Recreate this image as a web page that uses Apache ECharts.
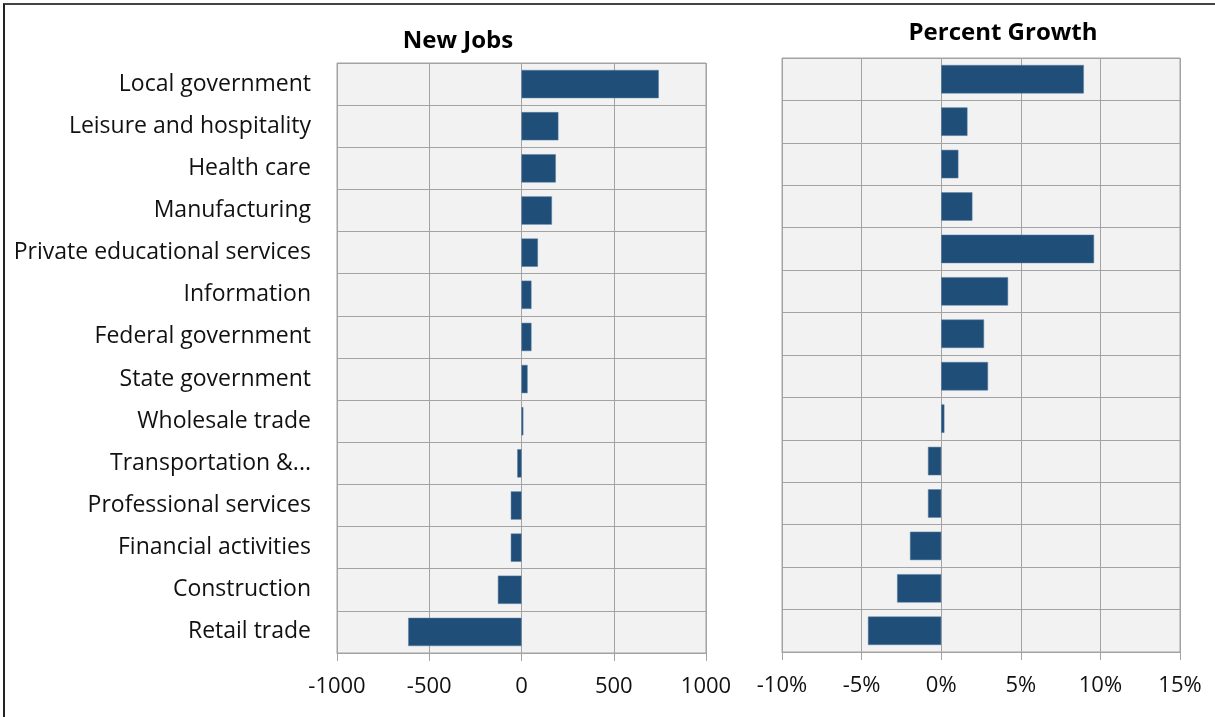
<!DOCTYPE html>
<html>
<head>
<meta charset="utf-8">
<script src="https://cdn.jsdelivr.net/npm/echarts@6/dist/echarts.min.js"></script>
<style>
  html, body { margin: 0; padding: 0; background: #fff; }
  #chart { position: absolute; left: 0; top: 0; width: 1215px; height: 717px; }
  #frame { position: absolute; left: 3px; top: 3px; width: 1220px; height: 720px;
           border-left: 2px solid #222; border-top: 2px solid #444; pointer-events: none; }
</style>
</head>
<body>
<div id="chart"></div>
<div id="frame"></div>
<script>
const categories = [
  "Local government",
  "Leisure and hospitality",
  "Health care",
  "Manufacturing",
  "Private educational services",
  "Information",
  "Federal government",
  "State government",
  "Wholesale trade",
  "Transportation &...",
  "Professional services",
  "Financial activities",
  "Construction",
  "Retail trade"
];
const newJobs = [744, 200, 186, 165, 89, 54, 54, 33, 10, -23, -58, -58, -128, -614];
const percentGrowth = [8.96, 1.65, 1.08, 1.96, 9.6, 4.2, 2.69, 2.94, 0.2, -0.83, -0.83, -1.96, -2.77, -4.6];
const titles = ["New Jobs", "Percent Growth"];
const newJobsTicks = { min: -1000, max: 1000, interval: 500 };
const growthTicks = { min: -10, max: 15, interval: 5 };

const FONT = '"Open Sans"';
const gridColor = '#a3a3a3';
const barColor = '#1f4e79';

const chart = echarts.init(document.getElementById('chart'), null, { renderer: 'canvas' });

function valueAxis(gridIndex, ticks, fmt) {
  return {
    type: 'value', gridIndex: gridIndex,
    min: ticks.min, max: ticks.max, interval: ticks.interval,
    axisLine: { show: true, onZero: false, lineStyle: { color: gridColor, width: 1 } },
    axisTick: { show: true, length: 8, lineStyle: { color: gridColor } },
    axisLabel: { color: '#111', fontFamily: FONT, fontSize: 22, margin: 23, formatter: fmt },
    splitLine: { show: true, showMinLine: true, showMaxLine: true, lineStyle: { color: gridColor, width: 1 } }
  };
}
function catAxis(gridIndex, showLabels) {
  return {
    type: 'category', gridIndex: gridIndex, data: categories, inverse: true,
    axisLine: { show: false }, axisTick: { show: false },
    axisLabel: { show: showLabels, color: '#111', fontFamily: FONT, fontSize: 23, margin: 26,
                 padding: [6, 0, 0, 0] },
    splitLine: { show: true, lineStyle: { color: gridColor, width: 1 } }
  };
}

chart.setOption({
  animation: false,
  textStyle: { fontFamily: FONT },
  title: [
    { text: titles[0], left: 453, top: 24, textAlign: 'center',
      textStyle: { fontFamily: FONT, fontWeight: 'bold', fontSize: 24, color: '#000' } },
    { text: titles[1], left: 998, top: 16, textAlign: 'center',
      textStyle: { fontFamily: FONT, fontWeight: 'bold', fontSize: 24, color: '#000' } }
  ],
  grid: [
    { left: 337, top: 63, width: 369, height: 590, show: true, backgroundColor: '#f2f2f2', borderColor: gridColor, borderWidth: 1, containLabel: false },
    { left: 782, top: 58, width: 398, height: 594, show: true, backgroundColor: '#f2f2f2', borderColor: gridColor, borderWidth: 1, containLabel: false }
  ],
  xAxis: [
    valueAxis(0, newJobsTicks, function (v) { return String(v); }),
    valueAxis(1, growthTicks, function (v) { return v + '%'; })
  ],
  yAxis: [
    catAxis(0, true),
    catAxis(1, false)
  ],
  series: [
    { type: 'bar', xAxisIndex: 0, yAxisIndex: 0, data: newJobs, barCategoryGap: '33%',
      itemStyle: { color: barColor, borderColor: '#5b7fa3', borderWidth: 0.5 } },
    { type: 'bar', xAxisIndex: 1, yAxisIndex: 1, data: percentGrowth, barCategoryGap: '33%',
      itemStyle: { color: barColor, borderColor: '#5b7fa3', borderWidth: 0.5 } }
  ]
});
</script>
</body>
</html>
